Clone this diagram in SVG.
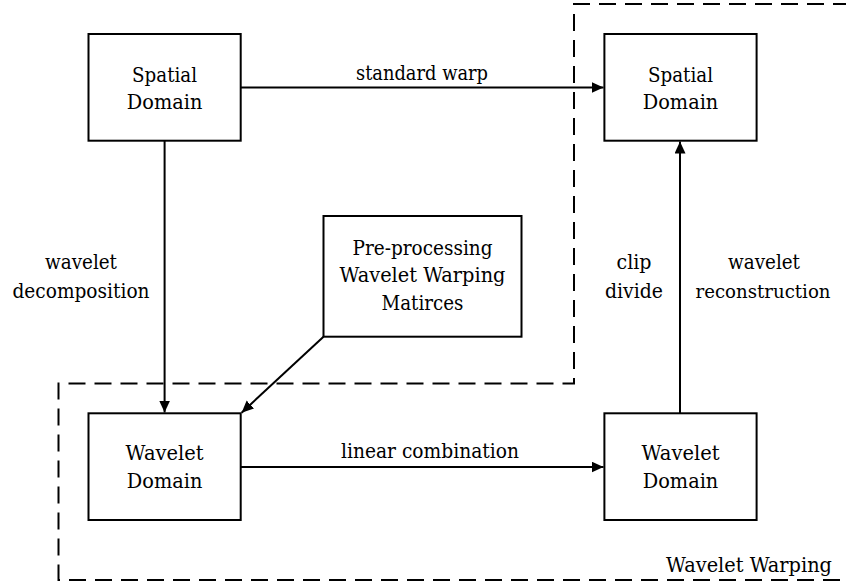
<svg xmlns="http://www.w3.org/2000/svg" width="846" height="584" viewBox="0 0 846 584">
<defs>
<style>
.box{fill:#fff;stroke:#000;stroke-width:2}
.t{font-family:'DejaVu Serif',serif;font-size:20.5px;fill:#000;text-anchor:middle}
.edge{stroke:#000;stroke-width:2;fill:none}
.dash{stroke:#000;stroke-width:2;fill:none;stroke-dasharray:17 9}
</style>
<marker id="arr" markerUnits="userSpaceOnUse" markerWidth="13" markerHeight="12" refX="12" refY="5.5" orient="auto">
<path d="M0,0 L12,5.5 L0,11 z" fill="#000"/>
</marker>
</defs>
<rect width="846" height="584" fill="#fff"/>
<g id="wavelet-warping-region">
<path class="dash" d="M850,4 H574 V383.5 H58.5 V580 H850"/>
<text class="t" x="832" y="572" style="text-anchor:end" textLength="166" lengthAdjust="spacingAndGlyphs">Wavelet Warping</text>
</g>
<g id="connectors">
<line class="edge" x1="241" y1="87.5" x2="603.5" y2="87.5" marker-end="url(#arr)"/>
<text class="t" x="422" y="80" textLength="132" lengthAdjust="spacingAndGlyphs">standard warp</text>
<line class="edge" x1="164.6" y1="141" x2="164.6" y2="412.5" marker-end="url(#arr)"/>
<text class="t" x="81" y="269" textLength="72" lengthAdjust="spacingAndGlyphs">wavelet</text>
<text class="t" x="81" y="298" textLength="137" lengthAdjust="spacingAndGlyphs">decomposition</text>
<line class="edge" x1="323.5" y1="336.7" x2="241.6" y2="412.7" marker-end="url(#arr)"/>
<line class="edge" x1="241" y1="467" x2="603.5" y2="467" marker-end="url(#arr)"/>
<text class="t" x="430" y="458" textLength="178" lengthAdjust="spacingAndGlyphs">linear combination</text>
<line class="edge" x1="680" y1="413" x2="680" y2="141.5" marker-end="url(#arr)"/>
<text class="t" x="634" y="269" textLength="35" lengthAdjust="spacingAndGlyphs">clip</text>
<text class="t" x="634" y="298" textLength="58" lengthAdjust="spacingAndGlyphs">divide</text>
<text class="t" x="764" y="269" textLength="72" lengthAdjust="spacingAndGlyphs">wavelet</text>
<text class="t" x="763" y="298" style="font-size:19px" textLength="135" lengthAdjust="spacingAndGlyphs">reconstruction</text>
</g>
<g id="spatial-domain-src">
<rect class="box" x="88.5" y="34" width="152.2" height="106.7"/>
<text class="t" x="164.6" y="81.5" textLength="65" lengthAdjust="spacingAndGlyphs">Spatial</text>
<text class="t" x="164.6" y="109" textLength="75.5" lengthAdjust="spacingAndGlyphs">Domain</text>
</g>
<g id="spatial-domain-dst">
<rect class="box" x="604.4" y="34" width="152.2" height="106.7"/>
<text class="t" x="680.5" y="81.5" textLength="65" lengthAdjust="spacingAndGlyphs">Spatial</text>
<text class="t" x="680.5" y="109" textLength="75.5" lengthAdjust="spacingAndGlyphs">Domain</text>
</g>
<g id="preprocessing">
<rect class="box" x="323.5" y="216" width="198" height="120.7"/>
<text class="t" x="422.5" y="255" textLength="140" lengthAdjust="spacingAndGlyphs">Pre-processing</text>
<text class="t" x="422.5" y="282" textLength="166" lengthAdjust="spacingAndGlyphs">Wavelet Warping</text>
<text class="t" x="422.5" y="310" textLength="82" lengthAdjust="spacingAndGlyphs">Matirces</text>
</g>
<g id="wavelet-domain-src">
<rect class="box" x="88.5" y="413.3" width="152.2" height="106.7"/>
<text class="t" x="164.6" y="460" textLength="78" lengthAdjust="spacingAndGlyphs">Wavelet</text>
<text class="t" x="164.6" y="487.5" textLength="75.5" lengthAdjust="spacingAndGlyphs">Domain</text>
</g>
<g id="wavelet-domain-dst">
<rect class="box" x="604.4" y="413.3" width="152.2" height="106.7"/>
<text class="t" x="680.5" y="460" textLength="78" lengthAdjust="spacingAndGlyphs">Wavelet</text>
<text class="t" x="680.5" y="487.5" textLength="75.5" lengthAdjust="spacingAndGlyphs">Domain</text>
</g>
</svg>
